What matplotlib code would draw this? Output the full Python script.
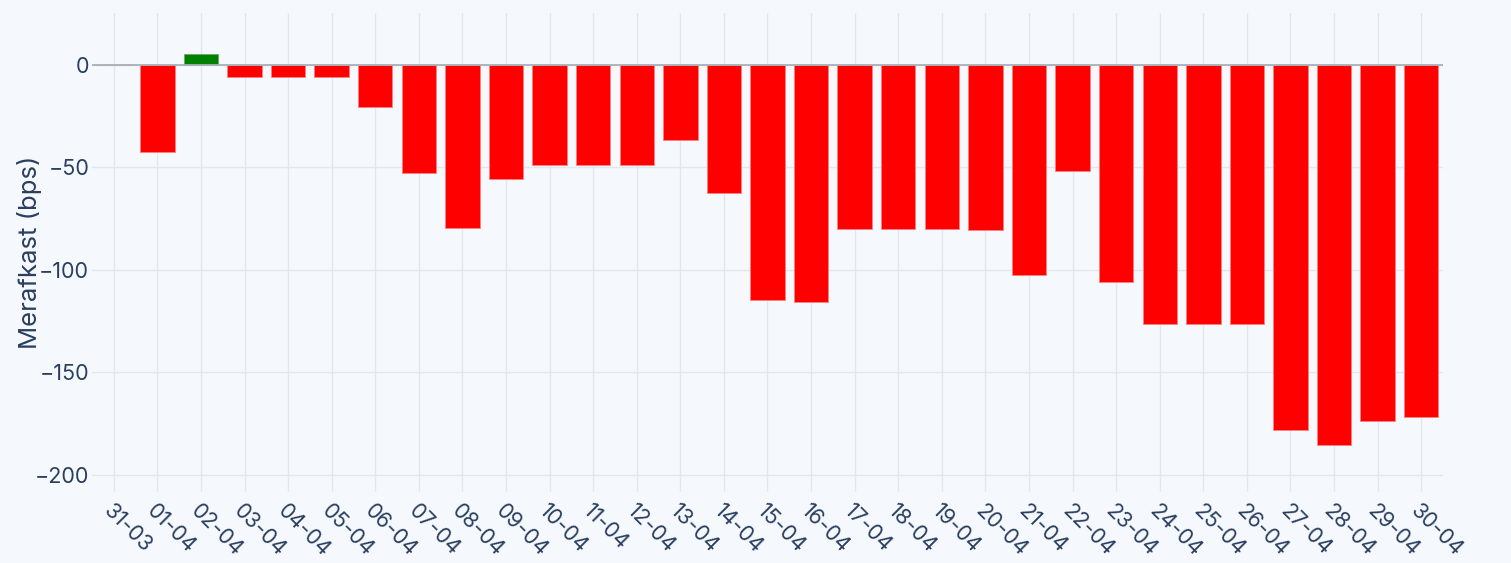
import matplotlib
matplotlib.use("Agg")
import matplotlib.pyplot as plt
import numpy as np

dates = ["31-03", "01-04", "02-04", "03-04", "04-04", "05-04", "06-04", "07-04",
         "08-04", "09-04", "10-04", "11-04", "12-04", "13-04", "14-04", "15-04",
         "16-04", "17-04", "18-04", "19-04", "20-04", "21-04", "22-04", "23-04",
         "24-04", "25-04", "26-04", "27-04", "28-04", "29-04", "30-04"]
merafkast = [0, -42.7, 5.2, -6.0, -6.0, -6.0, -20.8, -52.6,
             -79.6, -55.6, -49.1, -49.1, -49.1, -36.9, -62.7, -114.9,
             -115.5, -80.3, -80.1, -80.1, -80.6, -102.5, -52.0, -105.8,
             -126.2, -126.2, -126.2, -178.1, -185.2, -173.7, -171.6]
y_ticks = [0, -50, -100, -150, -200]
y_label = "Merafkast (bps)"

bg = "#f5f8fd"
text_color = "#2a3f5f"
grid_color = "#e3e6ec"

plt.rcParams['font.family'] = ['Inter', 'DejaVu Sans']

W, H = 1511, 563
fig = plt.figure(figsize=(W / 100, H / 100), dpi=100, facecolor=bg)
ax = fig.add_axes([92 / W, 1 - 477 / H, (1443 - 92) / W, (477 - 13) / H])
ax.set_facecolor(bg)

x = np.arange(len(dates))
colors = ["#008000" if v > 0 else "#ff0000" for v in merafkast]
edges = ["#60b060" if v > 0 else "#ff8080" for v in merafkast]
ax.bar(x, merafkast, width=0.79, color=colors, edgecolor=edges, linewidth=0.6, zorder=3)

ax.axhline(0, color="#a8b0b8", linewidth=1.3, zorder=4)

ax.set_xlim(-0.5, len(dates) - 0.5)
ax.set_ylim(-201, 25.2)
ax.set_yticks(y_ticks)
ax.set_yticklabels(["0" if t == 0 else "\u2212" + str(abs(t)) for t in y_ticks])
ax.set_xticks(x)
ax.set_xticklabels(dates, rotation=-45, ha="left", va="top", rotation_mode="anchor")

ax.grid(True, color=grid_color, linewidth=1, zorder=0)
ax.set_axisbelow(True)
for s in ax.spines.values():
    s.set_visible(False)

ax.tick_params(axis="x", length=10, color=grid_color, width=1, pad=7,
               labelsize=15.5, labelcolor=text_color)
ax.tick_params(axis="y", length=0, pad=2, labelsize=15.5, labelcolor=text_color)

fig.text(30 / W, 1 - 252 / H, y_label, rotation=90, ha="center", va="center",
         fontsize=18.5, color=text_color)

fig.savefig("out.png", dpi=100, facecolor=bg)
